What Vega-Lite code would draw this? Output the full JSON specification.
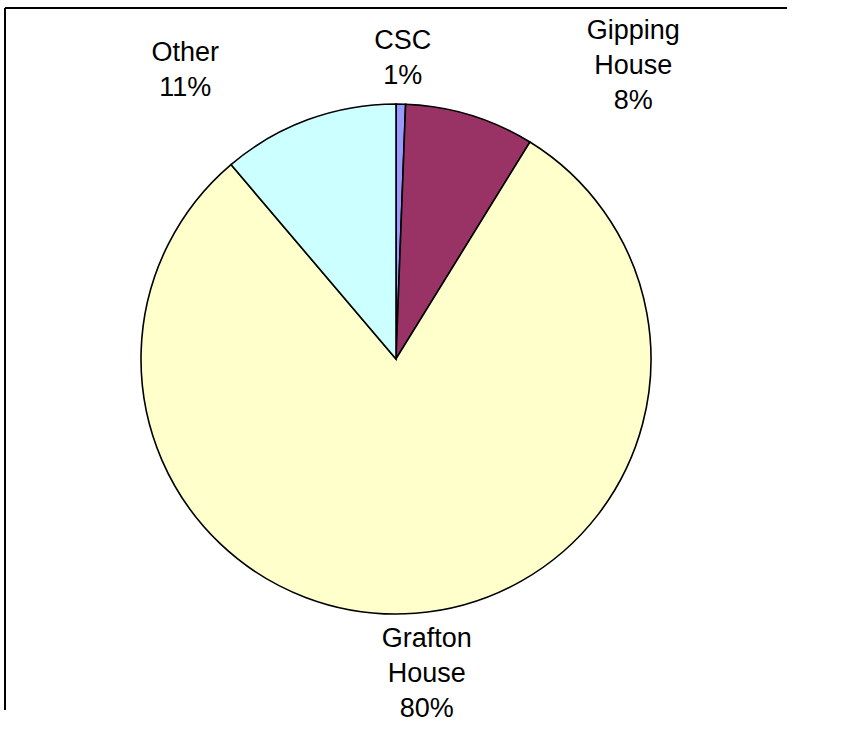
{
  "$schema": "https://vega.github.io/schema/vega-lite/v6.json",
  "width": 782,
  "height": 702,
  "autosize": {"type": "none"},
  "padding": {"left": 5, "top": 8, "right": 69, "bottom": 19},
  "background": "white",
  "config": {
    "view": {"stroke": null},
    "text": {"font": "Liberation Sans", "fontSize": 27, "lineHeight": 35, "lineBreak": "\n", "align": "center", "baseline": "middle", "color": "#000000"}
  },
  "data": {
    "values": [
      {"category": "CSC", "value": 0.6, "label": "CSC\n1%"},
      {"category": "Gipping House", "value": 8.2, "label": "Gipping\nHouse\n8%"},
      {"category": "Grafton House", "value": 80.0, "label": "Grafton\nHouse\n80%"},
      {"category": "Other", "value": 11.2, "label": "Other\n11%"}
    ]
  },
  "layer": [
    {
      "mark": {"type": "rect", "fill": null, "stroke": "#000000", "strokeWidth": 2, "strokeDash": [782, 1484, 702, 0]},
      "encoding": {}
    },
    {
      "mark": {"type": "arc", "outerRadius": 255, "stroke": "#000000", "strokeWidth": 1.6},
      "encoding": {
        "theta": {"field": "value", "type": "quantitative", "stack": true},
        "order": {"field": "category", "type": "nominal", "sort": "ascending"},
        "color": {
          "field": "category",
          "type": "nominal",
          "scale": {"domain": ["CSC", "Gipping House", "Grafton House", "Other"], "range": ["#9999FF", "#993366", "#FFFFCC", "#CCFFFF"]},
          "legend": null
        }
      }
    },
    {
      "mark": {"type": "text", "radius": 301, "dx": 1, "dy": -17},
      "encoding": {
        "theta": {"field": "value", "type": "quantitative", "stack": true},
        "order": {"field": "category", "type": "nominal", "sort": "ascending"},
        "text": {"condition": {"test": "datum.category === 'CSC'", "field": "label", "type": "nominal"}, "value": ""}
      }
    },
    {
      "mark": {"type": "text", "radius": 300, "dx": 150, "dy": -41},
      "encoding": {
        "theta": {"field": "value", "type": "quantitative", "stack": true},
        "order": {"field": "category", "type": "nominal", "sort": "ascending"},
        "text": {"condition": {"test": "datum.category === 'Gipping House'", "field": "label", "type": "nominal"}, "value": ""}
      }
    },
    {
      "mark": {"type": "text", "radius": 316, "dx": 7, "dy": -35},
      "encoding": {
        "theta": {"field": "value", "type": "quantitative", "stack": true},
        "order": {"field": "category", "type": "nominal", "sort": "ascending"},
        "text": {"condition": {"test": "datum.category === 'Grafton House'", "field": "label", "type": "nominal"}, "value": ""}
      }
    },
    {
      "mark": {"type": "text", "radius": 310, "dx": -104, "dy": -15},
      "encoding": {
        "theta": {"field": "value", "type": "quantitative", "stack": true},
        "order": {"field": "category", "type": "nominal", "sort": "ascending"},
        "text": {"condition": {"test": "datum.category === 'Other'", "field": "label", "type": "nominal"}, "value": ""}
      }
    }
  ]
}
